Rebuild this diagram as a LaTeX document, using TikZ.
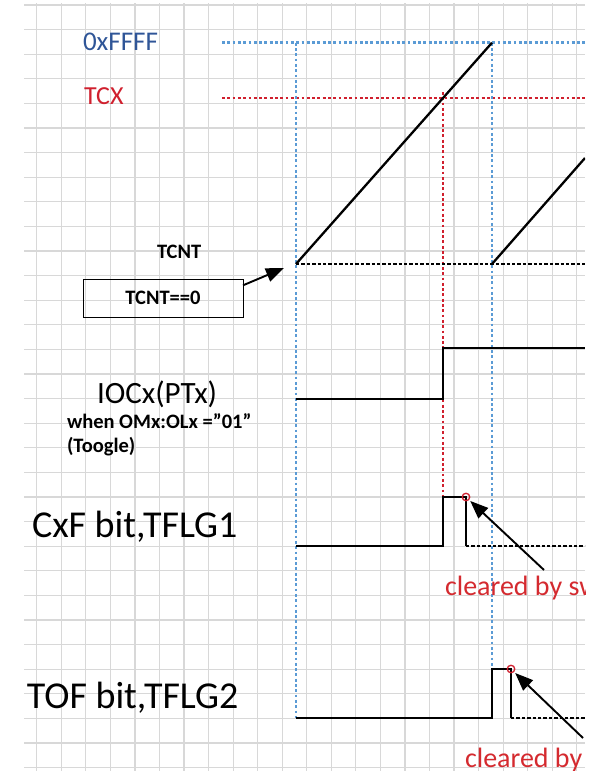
\documentclass[tikz,border=0pt]{standalone}
\usepackage{fontspec}
\setmainfont{Carlito}
\usetikzlibrary{arrows.meta,positioning,calc}

\definecolor{gridgray}{HTML}{D8D8D8}
\definecolor{guideblue}{HTML}{5B9BD5}
\definecolor{guidered}{HTML}{D0202E}
\definecolor{labelblue}{HTML}{2F5597}
\definecolor{labelred}{HTML}{D42A2F}

\begin{document}
\begin{tikzpicture}[x=1pt, y=-1pt,
	every node/.style={inner sep=0pt, outer sep=0pt},
	gridline/.style={draw=gridgray, line width=1.2pt},
	blueguide/.style={draw=guideblue, line width=2.8pt, dash pattern=on 2.8pt off 2.5pt},
	redguide/.style={draw=guidered, line width=2.8pt, dash pattern=on 2.8pt off 2.5pt},
	zeroline/.style={draw=black, line width=2.4pt, dash pattern=on 3.4pt off 2pt},
	signal/.style={draw=black, line width=2.3pt},
	bigarrow/.style={-{Triangle[length=18pt,width=14pt]}, line width=1.9pt},
	clrmark/.style={circle, draw=guidered, line width=1.3pt, minimum size=7.5pt},
	zerobox/.style={draw, line width=1pt, minimum width=160pt, minimum height=38pt, font=\bfseries\fontsize{20.5}{24}\selectfont}
	]
	\useasboundingbox (0,0) rectangle (596,771);
	\begin{scope}
	\clip (0,0) rectangle (585,771);

	% grid paper
	\foreach \i in {0,...,22}
		\draw[gridline] ({36.7+24.55*\i},3) -- ({36.7+24.55*\i},771);
	\foreach \j in {0,...,31}
		\draw[gridline] (24,{5+24.6*\j}) -- (585,{5+24.6*\j});

	% levels and time marks
	\draw[blueguide] (222,42.7) -- (585,42.7);
	\draw[redguide] (222,98) -- (585,98);
	\draw[blueguide] (296,42.7) -- (296,718);
	\draw[redguide] (443,92) -- (443,497);
	\draw[blueguide] (492,42.7) -- (492,669);

	% counter ramp
	\coordinate (rampStart) at (296,264);
	\coordinate (rampTop) at (492,42.7);
	\coordinate (rampStart2) at (492,264);
	\coordinate (rampEnd2) at (585,158);
	\draw[zeroline] (rampStart) -- (585,264);
	\draw[signal] (rampStart) -- (rampTop);
	\draw[signal] (rampStart2) -- (rampEnd2);

	% IOCx output
	\draw[signal] (296,399) -- (443,399) -- (443,348) -- (585,348);

	% CxF flag
	\draw[signal] (296,546) -- (443,546) -- (443,497) -- (466,497) -- (466,546);
	\draw[zeroline] (466,546) -- (585,546);
	\node[clrmark] (cxfClr) at (466,497) {};

	% TOF flag
	\draw[signal] (296,718) -- (492,718) -- (492,669) -- (511,669) -- (511,718);
	\draw[zeroline] (511,718) -- (585,718);
	\node[clrmark] (tofClr) at (511,669) {};

	% labels
	\node[anchor=base west, text=labelblue, font=\fontsize{27}{31}\selectfont] (lblFFFF) at (83,50.7) {0xFFFF};
	\node[anchor=base west, text=guidered, font=\fontsize{26}{30}\selectfont] (lblTCX) at (84,104) {TCX};
	\node[anchor=base west, font=\bfseries\fontsize{20.5}{24}\selectfont] (lblTCNT) at (157,258.3) {TCNT};
	\node[zerobox] (boxZero) at (163,298) {TCNT==0};
	\node[anchor=base west, font=\fontsize{31}{36}\selectfont] (lblIOC) at (97,403) {IOCx(PTx)};
	\node[anchor=base west, font=\bfseries\fontsize{20.5}{24}\selectfont] (lblOM) at (67,428) {when OMx:OLx =”01”};
	\node[anchor=base west, font=\bfseries\fontsize{20.5}{24}\selectfont] (lblToggle) at (67,452.7) {(Toogle)};
	\node[anchor=base west, font=\fontsize{38}{43}\selectfont] (lblCxF) at (32,537) {CxF bit,TFLG1};
	\node[anchor=base west, font=\fontsize{38}{43}\selectfont] (lblTOF) at (27,708) {TOF bit,TFLG2};
	\node[anchor=base west, text=labelred, font=\fontsize{28}{32}\selectfont] (clrCxF) at (445,595) {cleared by sw};
	\node[anchor=base west, text=labelred, font=\fontsize{28}{32}\selectfont] (clrTOF) at (465,767) {cleared by};

	% pointers
	\coordinate (zeroTip) at (284,268);
	\coordinate (cxfTail) at (544,570);
	\coordinate (tofTail) at (583,738);
	\draw[bigarrow] (boxZero.9) -- (zeroTip);
	\draw[bigarrow, shorten >=2pt] (cxfTail) -- (cxfClr);
	\draw[bigarrow, shorten >=2pt] (tofTail) -- (tofClr);
	\end{scope}
\end{tikzpicture}
\end{document}
